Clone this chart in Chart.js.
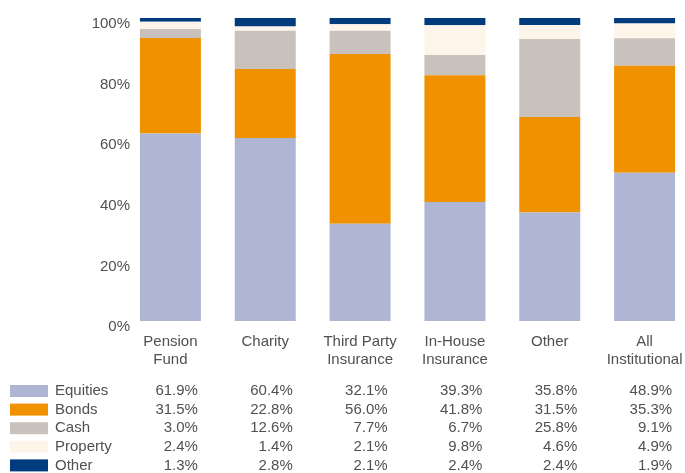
<!DOCTYPE html>
<html>
<head>
<meta charset="utf-8">
<script src="https://cdn.jsdelivr.net/npm/chart.js@4"></script>
<style>
  body { margin: 0; overflow: hidden; background: #fff; }
</style>
</head>
<body>
<canvas id="grafico" width="700" height="473"></canvas>
<script>
const categorias = [['Pension', 'Fund'], ['Charity'], ['Third Party', 'Insurance'], ['In-House', 'Insurance'], ['Other'], ['All', 'Institutional']]
const series = ['Equities', 'Bonds', 'Cash', 'Property', 'Other']
const equities = [61.9, 60.4, 32.1, 39.3, 35.8, 48.9]
const bonds = [31.5, 22.8, 56.0, 41.8, 31.5, 35.3]
const cash = [3.0, 12.6, 7.7, 6.7, 25.8, 9.1]
const property = [2.4, 1.4, 2.1, 9.8, 4.6, 4.9]
const other = [1.3, 2.8, 2.1, 2.4, 2.4, 1.9]
const yTicks = [0, 20, 40, 60, 80, 100]

const colores = ['#aeb6d3', '#f09200', '#c9c2bc', '#fef5ea', '#003c7d']
const textColor = '#505050'
const fuente = { family: "'Liberation Sans', Arial, sans-serif", size: 15 }

const valores = [equities, bonds, cash, property, other]

// tabla de datos debajo del grafico
const tablaDatos = {
    id: 'tablaDatos',
    afterDraw(chart) {
        const { ctx, chartArea, scales: { x } } = chart
        ctx.save()
        ctx.font = `${fuente.size}px ${fuente.family}`
        ctx.textBaseline = 'middle'
        ctx.fillStyle = textColor
        series.forEach((nombre, i) => {
            const y = chartArea.bottom + 70 + i * 18.6
            ctx.fillStyle = colores[i]
            ctx.fillRect(10, y - 6, 38, 12)
            ctx.fillStyle = textColor
            ctx.textAlign = 'left'
            ctx.fillText(nombre, 55, y)
            ctx.textAlign = 'right'
            valores[i].forEach((v, j) => {
                ctx.fillText(v.toFixed(1) + '%', x.getPixelForValue(j) + 27.5, y)
            })
        })
        ctx.restore()
    }
}

const data = {
    labels: categorias,
    datasets: series.map((nombre, i) => ({
        label: nombre,
        data: valores[i],
        backgroundColor: colores[i],
        borderWidth: 0,
        barPercentage: 0.643,
        categoryPercentage: 1
    }))
}

// ancho de "100%" para alinear las etiquetas del eje y a la derecha en x=130
const ctxMedida = document.getElementById('grafico').getContext('2d')
ctxMedida.font = `${fuente.size}px ${fuente.family}`
const anchoEtiqueta = ctxMedida.measureText('100%').width

const config = {
    type: 'bar',
    data,
    options: {
        responsive: false,
        animation: false,
        devicePixelRatio: 1,
        layout: { padding: { top: 18, right: 8, left: 0, bottom: 0 } },
        plugins: {
            legend: { display: false },
            tooltip: { enabled: false }
        },
        scales: {
            x: {
                stacked: true,
                grid: { display: false, drawTicks: false },
                border: { display: false },
                ticks: {
                    color: textColor,
                    font: fuente,
                    padding: 12,
                    maxRotation: 0,
                    autoSkip: false
                },
                afterFit(scale) { scale.height = 152 }
            },
            y: {
                stacked: true,
                min: 0,
                max: 100,
                grid: { display: false, drawTicks: false },
                border: { display: false },
                afterBuildTicks(scale) { scale.ticks = yTicks.map(v => ({ value: v })) },
                ticks: {
                    color: textColor,
                    font: fuente,
                    mirror: true,
                    crossAlign: 'far',
                    padding: 7 - anchoEtiqueta,
                    labelOffset: 6,
                    callback: v => v + '%'
                },
                afterFit(scale) { scale.width = 123 }
            }
        }
    },
    plugins: [tablaDatos]
}

new Chart(document.getElementById('grafico'), config)
</script>
</body>
</html>
